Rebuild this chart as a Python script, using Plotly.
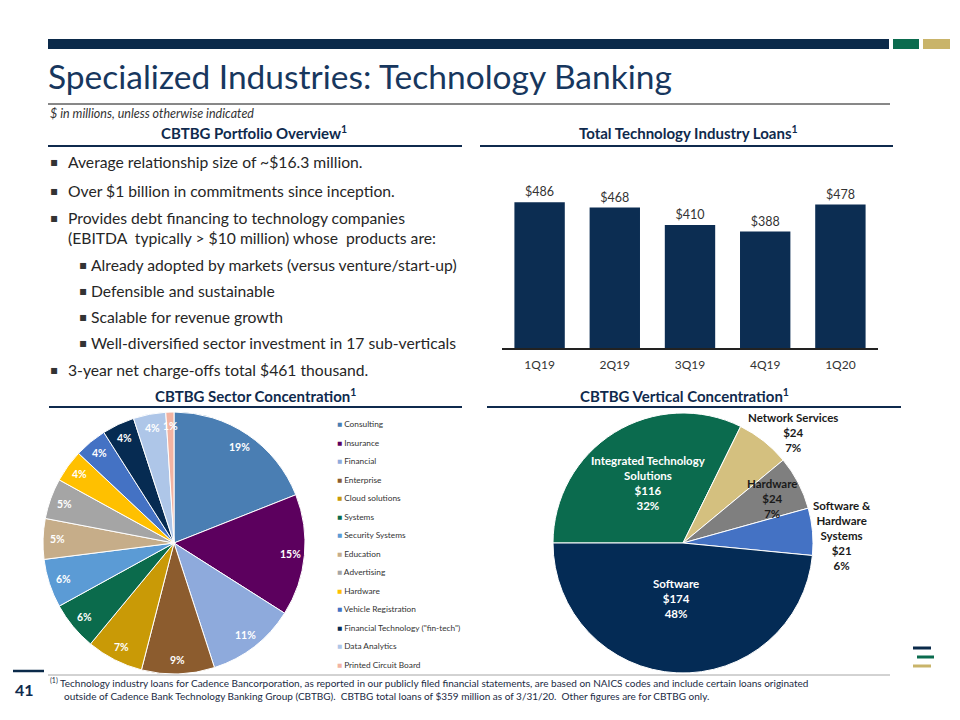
import math
import plotly.graph_objects as go

# ---------------- data ----------------
quarters = ["1Q19", "2Q19", "3Q19", "4Q19", "1Q20"]
loans = [486, 468, 410, 388, 478]

sectors = ["Consulting", "Insurance", "Financial", "Enterprise", "Cloud solutions", "Systems",
           "Security Systems", "Education", "Advertising", "Hardware", "Vehicle Registration",
           "Financial Technology (\"fin-tech\")", "Data Analytics", "Printed Circuit Board"]
sector_pct = [19, 15, 11, 9, 7, 6, 6, 5, 5, 4, 4, 4, 4, 1]
sector_colors = ["#4a7eb3", "#5c005e", "#8eaadc", "#8c5c2e", "#c99a06", "#0b6b4c", "#5b9bd5",
                 "#c6ad89", "#a5a5a5", "#ffc000", "#4472c4", "#062b52", "#aec6e8", "#f2b3a2"]

verticals = ["Integrated Technology Solutions", "Network Services", "Hardware",
             "Software & Hardware Systems", "Software"]
vertical_amt = [116, 24, 24, 21, 174]
vertical_pct = [32, 7, 7, 6, 48]
vertical_colors = ["#0b6b4e", "#d4c07f", "#7f7f7f", "#4472c4", "#042b55"]

bullets = [
    (0, "Average relationship size of ~$16.3 million."),
    (0, "Over $1 billion in commitments since inception."),
    (0, "Provides debt financing to technology companies"),
    (-1, "(EBITDA  typically > $10 million) whose  products are:"),
    (1, "Already adopted by markets (versus venture/start-up)"),
    (1, "Defensible and sustainable"),
    (1, "Scalable for revenue growth"),
    (1, "Well-diversified sector investment in 17 sub-verticals"),
    (0, "3-year net charge-offs total $461 thousand."),
]

# ---------------- helpers ----------------
OFF = 8          # default page margin around the plot div
W, H = 944, 704
def px(x):
    return (x - OFF) / W
def py(y):
    return 1 - (y - OFF) / H

NAVY = "#0c2d52"
FONT = "Lato"
TXT = "#262626"

# sector pie geometry (pixels)
SCX, SCY, SR = 174, 543, 131

fig = go.Figure()

# Bar chart
fig.add_trace(go.Bar(
    x=quarters, y=loans,
    text=["$%d" % v for v in loans], textposition="outside",
    textfont=dict(family=FONT, size=12.5, color="#333333"),
    marker=dict(color=NAVY, line=dict(width=0)),
    cliponaxis=False, xaxis="x", yaxis="y", showlegend=False,
))

# Sector pie
fig.add_trace(go.Pie(
    labels=sectors, values=sector_pct, sort=False, direction="clockwise", rotation=0,
    marker=dict(colors=sector_colors, line=dict(color="white", width=1)),
    textinfo="none",
    domain=dict(x=[px(SCX - SR), px(SCX + SR)], y=[py(SCY + SR), py(SCY - SR)]),
    showlegend=False, hoverinfo="label+percent",
))

# Vertical pie
fig.add_trace(go.Pie(
    labels=verticals, values=vertical_amt, sort=False, direction="clockwise", rotation=-90,
    marker=dict(colors=vertical_colors, line=dict(color="white", width=1)),
    textinfo="none",
    domain=dict(x=[px(553), px(813)], y=[py(673), py(413)]),
    showlegend=False,
))

shapes = []
ann = []

def A(**kw):
    kw.setdefault("xref", "paper")
    kw.setdefault("yref", "paper")
    kw.setdefault("showarrow", False)
    ann.append(kw)

def L(x0, x1, y, color, width):
    shapes.append(dict(type="line", xref="paper", yref="paper", x0=px(x0), x1=px(x1), y0=py(y), y1=py(y),
                       line=dict(color=color, width=width)))

def R(x0, x1, y0, y1, color):
    shapes.append(dict(type="rect", xref="paper", yref="paper", x0=px(x0), x1=px(x1), y0=py(y1), y1=py(y0),
                       fillcolor=color, line=dict(width=0)))

# sector pie percentage labels, placed along each slice's mid-angle
total = float(sum(sector_pct))
cum = 0.0
for v in sector_pct:
    theta = (cum + v / 2.0) / total * 2 * math.pi
    cum += v
    rr = SR * 0.89
    A(text="<b>%d%%</b>" % v, x=px(SCX + rr * math.sin(theta)), y=py(SCY - rr * math.cos(theta)),
      xanchor="center", yanchor="middle", font=dict(family=FONT, size=10.5, color="white"))

# top bars
R(48, 889, 39, 49, "#0b2a4a")
R(893, 919, 39, 49, "#0b6b4e")
R(923, 950, 39, 49, "#c9b46a")

# title
A(text="Specialized Industries: Technology Banking", x=px(46), y=py(76), xanchor="left", yanchor="middle",
  font=dict(family=FONT, size=33.5, color="#17375e"))
L(48, 890, 104, "#111111", 1)
A(text="<i>$ in millions, unless otherwise indicated</i>", x=px(48), y=py(113), xanchor="left", yanchor="middle",
  font=dict(family=FONT, size=12.5, color="#333333"))

# section headers
headers = [
    ("CBTBG Portfolio Overview<sup>1</sup>", 254, 133, 48, 462, 146),
    ("Total Technology Industry Loans<sup>1</sup>", 688, 133, 480, 893, 146),
    ("CBTBG Sector Concentration<sup>1</sup>", 255, 395, 49, 462, 407),
    ("CBTBG Vertical Concentration<sup>1</sup>", 684, 395, 487, 901, 407),
]
for t, cx, cy, l0, l1, ly in headers:
    A(text="<b>%s</b>" % t, x=px(cx), y=py(cy), xanchor="center", yanchor="middle",
      font=dict(family=FONT, size=15, color="#0f2a4d"))
    L(l0, l1, ly, "#0f2a4d", 2)

# bullets
bullet_y = [162, 191, 218, 238, 265, 291, 317, 343, 370]
for (lvl, t), yy in zip(bullets, bullet_y):
    if lvl == 0:
        bx, tx = 54, 66
    elif lvl == 1:
        bx, tx = 83, 89
    else:
        bx, tx = None, 66
    if bx is not None:
        A(text="▪", x=px(bx), y=py(yy), xanchor="center", yanchor="middle",
          font=dict(family="DejaVu Sans", size=12, color="#333333"))
    A(text=t, x=px(tx), y=py(yy), xanchor="left", yanchor="middle",
      font=dict(family=FONT, size=15.7, color=TXT))

# sector legend (text entries)
for i, (s, c) in enumerate(zip(sectors, sector_colors)):
    A(text="<span style='color:%s'>■</span> %s" % (c, s), x=px(335), y=py(424 + i * 18.5),
      xanchor="left", yanchor="middle", font=dict(family=FONT, size=8.3, color="#333333"))

# vertical pie labels
vlabels = [
    ("Integrated Technology<br>Solutions", 648, 483, "white"),
    ("Network Services", 793, 433, "#1a1a1a"),
    ("Hardware", 772, 498, "#1a1a1a"),
    ("Software &<br>Hardware<br>Systems", 842, 535, "#1a1a1a"),
    ("Software", 676, 598, "white"),
]
for (name, cx, cy, col), amt, pct in zip(vlabels, vertical_amt, vertical_pct):
    A(text="<b>%s<br>$%d<br>%d%%</b>" % (name, amt, pct), x=px(cx), y=py(cy),
      xanchor="center", yanchor="middle", align="center",
      font=dict(family=FONT, size=11.5, color=col))

# footer
L(48, 890, 675, "#a6a6a6", 1)
L(13, 44, 671, "#0b2a4a", 2.5)
A(text="<b>41</b>", x=px(24), y=py(689), xanchor="center", yanchor="middle",
  font=dict(family=FONT, size=16, color="#0f2a4d"))
A(text="<sup>(1)</sup> Technology industry loans for Cadence Bancorporation, as reported in our publicly filed financial statements, are based on NAICS codes and include certain loans originated",
  x=px(48), y=py(682), xanchor="left", yanchor="middle", font=dict(family=FONT, size=10, color="#1a2a44"))
A(text="outside of Cadence Bank Technology Banking Group (CBTBG).  CBTBG total loans of $359 million as of 3/31/20.  Other figures are for CBTBG only.",
  x=px(62), y=py(696), xanchor="left", yanchor="middle", font=dict(family=FONT, size=10, color="#1a2a44"))
# logo bars
for (x0, x1, yy, c) in [(913, 931, 648, "#0b2a4a"), (917, 934, 657, "#0b6b4e"), (913, 931, 666, "#c9b46a")]:
    L(x0, x1, yy, c, 3)

fig.update_layout(
    width=W, height=H, autosize=False, margin=dict(l=0, r=0, t=0, b=0),
    paper_bgcolor="white", plot_bgcolor="white", showlegend=False,
    bargap=0.33,
    xaxis=dict(domain=[px(502), px(878)], showline=True, linecolor="#222222", linewidth=1.5,
               ticks="", showgrid=False, tickfont=dict(family=FONT, size=12, color="#333333"),
               ticklabelstandoff=5, fixedrange=True),
    yaxis=dict(domain=[py(348), py(183)], range=[0, 550], visible=False, showgrid=False, fixedrange=True),
    shapes=shapes, annotations=ann,
    font=dict(family=FONT),
)

fig.write_html("out.html")
